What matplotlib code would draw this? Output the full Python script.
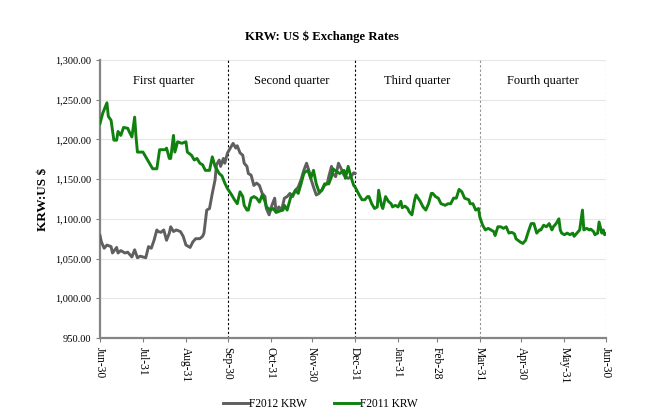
import matplotlib
matplotlib.use('Agg')
import matplotlib.pyplot as plt
import pandas as pd

# F2011 KRW (Jul 2010 - Jun 2011)
f2011_dates = ['2010-06-30','2010-07-02','2010-07-05','2010-07-06','2010-07-08','2010-07-10','2010-07-12',
    '2010-07-13','2010-07-15','2010-07-17','2010-07-20','2010-07-21','2010-07-23','2010-07-25','2010-07-26',
    '2010-07-27','2010-07-31','2010-08-04','2010-08-07','2010-08-10','2010-08-12','2010-08-16','2010-08-17',
    '2010-08-19','2010-08-20','2010-08-22','2010-08-23','2010-08-25','2010-08-28','2010-08-31','2010-09-01',
    '2010-09-04','2010-09-06','2010-09-08','2010-09-10','2010-09-12','2010-09-14','2010-09-17','2010-09-19',
    '2010-09-21','2010-09-24','2010-09-26','2010-09-28','2010-09-30','2010-10-03','2010-10-05','2010-10-07',
    '2010-10-09','2010-10-11','2010-10-12','2010-10-14','2010-10-15','2010-10-17','2010-10-19','2010-10-21',
    '2010-10-23','2010-10-25','2010-10-27','2010-10-28','2010-10-31','2010-11-02','2010-11-04','2010-11-07',
    '2010-11-09','2010-11-10','2010-11-12','2010-11-15','2010-11-16','2010-11-18','2010-11-20','2010-11-22',
    '2010-11-24','2010-11-25','2010-11-27','2010-11-29','2010-12-01','2010-12-03','2010-12-05','2010-12-07',
    '2010-12-09','2010-12-12','2010-12-14','2010-12-15','2010-12-18','2010-12-20','2010-12-23','2010-12-24',
    '2010-12-26','2010-12-28','2010-12-30','2010-12-31','2011-01-03','2011-01-05','2011-01-07','2011-01-09',
    '2011-01-10','2011-01-12','2011-01-14','2011-01-16','2011-01-17','2011-01-19','2011-01-20','2011-01-22',
    '2011-01-24','2011-01-26','2011-01-27','2011-01-29','2011-01-31','2011-02-02','2011-02-03','2011-02-05',
    '2011-02-07','2011-02-08','2011-02-10','2011-02-12','2011-02-13','2011-02-16','2011-02-18','2011-02-20',
    '2011-02-22','2011-02-24','2011-02-25','2011-02-27','2011-03-01','2011-03-03','2011-03-06','2011-03-08',
    '2011-03-10','2011-03-12','2011-03-14','2011-03-16','2011-03-18','2011-03-20','2011-03-23','2011-03-24',
    '2011-03-26','2011-03-28','2011-03-30','2011-03-31','2011-04-02','2011-04-04','2011-04-06','2011-04-08',
    '2011-04-10','2011-04-11','2011-04-13','2011-04-15','2011-04-17','2011-04-19','2011-04-21','2011-04-23',
    '2011-04-25','2011-04-26','2011-04-29','2011-05-01','2011-05-03','2011-05-05','2011-05-07','2011-05-09',
    '2011-05-11','2011-05-13','2011-05-14','2011-05-16','2011-05-18','2011-05-20','2011-05-22','2011-05-23',
    '2011-05-25','2011-05-27','2011-05-28','2011-05-29','2011-05-31','2011-06-02','2011-06-04','2011-06-06',
    '2011-06-07','2011-06-09','2011-06-11','2011-06-13','2011-06-14','2011-06-16','2011-06-18','2011-06-19',
    '2011-06-21','2011-06-22','2011-06-24','2011-06-25','2011-06-27','2011-06-28','2011-06-29','2011-06-30']
f2011_krw = [1220,1233,1246,1229,1224,1199,1199,
    1210,1205,1215,1214,1210,1203,1228,1203,
    1184,1184,1172,1163,1163,1187,1187,1189,
    1176,1176,1205,1184,1197,1195,1197,1184,
    1180,1174,1176,1170,1168,1161,1161,1178,
    1166,1157,1154,1145,1138,1130,1124,1119,
    1134,1128,1117,1111,1111,1126,1128,1126,
    1121,1130,1122,1115,1111,1113,1108,1110,
    1111,1117,1111,1130,1130,1136,1132,1144,
    1157,1159,1161,1151,1161,1144,1134,1136,
    1144,1144,1153,1163,1159,1157,1161,1151,
    1166,1153,1142,1140,1130,1124,1124,1128,
    1128,1119,1113,1115,1136,1117,1113,1128,
    1122,1119,1115,1117,1115,1122,1114,1116,
    1113,1109,1105,1124,1130,1122,1115,1111,
    1119,1132,1132,1128,1126,1119,1117,1119,
    1119,1126,1126,1137,1134,1126,1124,1119,
    1119,1111,1113,1102,1092,1086,1088,1086,
    1084,1079,1090,1090,1088,1090,1082,1083,
    1081,1075,1071,1069,1073,1084,1094,1094,
    1082,1086,1086,1092,1090,1094,1086,1090,
    1094,1100,1086,1082,1080,1082,1080,1082,
    1078,1082,1086,1111,1086,1088,1086,1087,
    1084,1080,1082,1096,1082,1086,1080,1081]

# F2012 KRW (Jul 2011 - Dec 2011), shown on the same fiscal-year axis
f2012_dates = ['2010-06-30','2010-07-01','2010-07-03','2010-07-05','2010-07-08','2010-07-09','2010-07-12',
    '2010-07-13','2010-07-15','2010-07-18','2010-07-20','2010-07-23','2010-07-25','2010-07-27','2010-07-29',
    '2010-07-31','2010-08-02','2010-08-04','2010-08-06','2010-08-08','2010-08-10','2010-08-11','2010-08-13',
    '2010-08-15','2010-08-17','2010-08-19','2010-08-20','2010-08-22','2010-08-24','2010-08-27','2010-08-29',
    '2010-08-31','2010-09-03','2010-09-05','2010-09-07','2010-09-10','2010-09-12','2010-09-13','2010-09-15',
    '2010-09-17','2010-09-19','2010-09-21','2010-09-22','2010-09-24','2010-09-25','2010-09-27','2010-09-28',
    '2010-09-30','2010-10-02','2010-10-04','2010-10-06','2010-10-07','2010-10-09','2010-10-11','2010-10-12',
    '2010-10-14','2010-10-15','2010-10-17','2010-10-19','2010-10-21','2010-10-23','2010-10-25','2010-10-27',
    '2010-10-28','2010-10-30','2010-11-01','2010-11-03','2010-11-04','2010-11-06','2010-11-08','2010-11-10',
    '2010-11-12','2010-11-14','2010-11-16','2010-11-18','2010-11-20','2010-11-22','2010-11-24','2010-11-26',
    '2010-11-28','2010-11-29','2010-12-01','2010-12-03','2010-12-05','2010-12-07','2010-12-09','2010-12-11',
    '2010-12-12','2010-12-14','2010-12-15','2010-12-17','2010-12-19','2010-12-21','2010-12-23','2010-12-24',
    '2010-12-26','2010-12-28','2010-12-30','2010-12-31']
f2012_krw = [1079,1071,1063,1067,1065,1057,1064,
    1057,1060,1057,1058,1052,1061,1051,1053,
    1052,1051,1065,1063,1073,1086,1084,1083,
    1086,1073,1082,1090,1084,1086,1084,1078,
    1067,1064,1071,1075,1075,1078,1082,1111,
    1113,1132,1149,1168,1174,1166,1176,1170,
    1183,1189,1195,1189,1192,1183,1180,1170,
    1166,1157,1155,1142,1145,1142,1132,1128,
    1113,1105,1117,1126,1109,1115,1111,1126,
    1128,1132,1128,1136,1140,1149,1161,1170,
    1159,1151,1140,1130,1132,1136,1142,1145,
    1153,1166,1157,1153,1170,1163,1155,1153,
    1151,1153,1158,1157]

tick_dates = ['2010-06-30','2010-07-31','2010-08-31','2010-09-30','2010-10-31','2010-11-30','2010-12-31',
              '2011-01-31','2011-02-28','2011-03-31','2011-04-30','2011-05-31','2011-06-30']
quarter_ends = ['2010-09-30','2010-12-31','2011-03-31','2011-06-30']
quarter_names = ['First quarter','Second quarter','Third quarter','Fourth quarter']

plt.rcParams['font.family'] = 'Liberation Serif'

fig = plt.figure(figsize=(6.51, 4.19), dpi=100)
ax = fig.add_axes([0.1536, 0.1933, 0.7773, 0.6637])

d11 = pd.to_datetime(f2011_dates)
d12 = pd.to_datetime(f2012_dates)
ticks = pd.to_datetime(tick_dates)
qends = pd.to_datetime(quarter_ends)

ax.plot(d12, f2012_krw, color='#5f5f5f', lw=2.1, label='F2012 KRW', zorder=3)
ax.plot(d11, f2011_krw, color='#10800f', lw=2.1, label='F2011 KRW', zorder=4)

ax.set_ylim(950, 1300)
ax.set_yticks(range(950, 1301, 50))
ax.yaxis.set_major_formatter(plt.FuncFormatter(lambda v, p: f'{v:,.2f}'))
ax.grid(axis='y', color='#e6e6e6', lw=0.8)
ax.set_axisbelow(True)

ax.set_xlim(ticks[0], ticks[-1])
ax.set_xticks(ticks)
ax.set_xticklabels([t.strftime('%b-%d') for t in ticks], rotation=-90, fontsize=8.3)
ax.tick_params(axis='y', labelsize=7.5, length=3, color='#808080')
ax.tick_params(axis='x', length=3, color='#808080')

for s in ['top', 'right']:
    ax.spines[s].set_visible(False)
for s in ['left', 'bottom']:
    ax.spines[s].set_color('#858585')
    ax.spines[s].set_linewidth(1.6)

for i, q in enumerate(qends):
    c = 'black' if i < 2 else '#909090'
    ax.axvline(q, color=c, lw=0.8, ls=(0, (2, 2)), zorder=2)
    start = ticks[0] if i == 0 else qends[i - 1]
    mid = start + (q - start) / 2
    ax.text(mid, 1273, quarter_names[i], ha='center', va='center', fontsize=9)

fig.text(0.494, 0.912, 'KRW: US $ Exchange Rates', ha='center', va='center',
         fontsize=9.2, fontweight='bold')
ax.set_ylabel('KRW:US $', fontsize=9.5, fontweight='bold', labelpad=4)

fig.legend(loc='center', bbox_to_anchor=(0.492, 0.036), ncol=2, frameon=False,
           fontsize=8.3, handlelength=2.2, handletextpad=0.05, columnspacing=2.3)

fig.savefig('out.png', dpi=100)
